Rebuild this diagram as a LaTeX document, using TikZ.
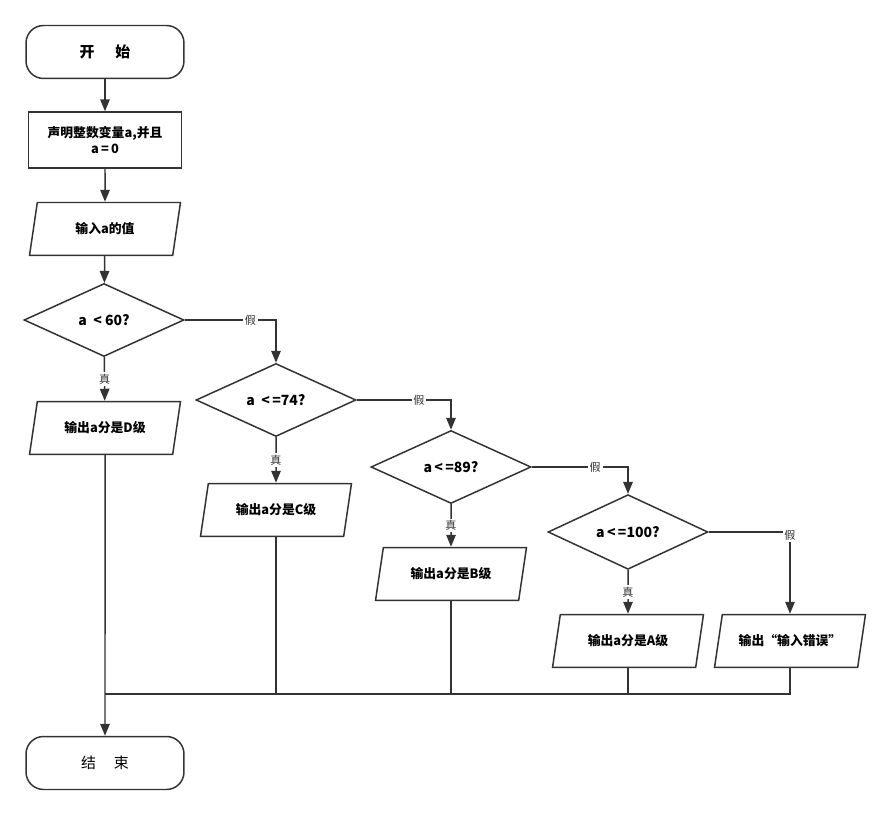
\documentclass[tikz,border=0pt]{standalone}
\usepackage{fontspec}
\setmainfont{Noto Sans CJK SC}
\usetikzlibrary{arrows.meta,shapes.geometric}
\definecolor{ink}{RGB}{51,51,51}
\newcommand{\boxfont}{\fontsize{7.3}{9.2}\selectfont\bfseries}
\tikzset{
  flow/.style={-{Triangle[length=2.4mm,width=1.9mm]}, line width=.85pt, draw=ink},
  merge/.style={line width=.85pt, draw=ink},
  term/.style={draw=ink, line width=.85pt, rounded corners=3.5mm,
               minimum width=3.16cm, minimum height=1.06cm, font=\fontsize{8.5}{10}\selectfont},
  proc/.style={draw=ink, line width=.85pt, align=center,
               minimum width=3.06cm, minimum height=1.12cm, font=\boxfont},
  io/.style={draw=ink, line width=.85pt, trapezium, trapezium left angle=72,
             trapezium right angle=108, trapezium stretches body,
             minimum width=3.02cm, minimum height=1.06cm, inner xsep=0pt, font=\boxfont},
  test/.style={draw=ink, line width=.85pt, diamond, inner sep=0pt,
               minimum width=3.2cm, minimum height=1.46cm, font=\fontsize{8}{10}\selectfont\bfseries},
  tag/.style={fill=white, inner sep=1pt, text=ink, font=\fontsize{6.3}{7}\selectfont}
}
\begin{document}
\begin{tikzpicture}[x=0.02cm, y=-0.02cm]
  \useasboundingbox (0,0) rectangle (890,814);
  \node[term, font=\fontsize{8.5}{10}\selectfont\bfseries] (start) at (105,52) {开\hspace{1.4em}始};
  \node[proc] (decl) at (105,140) {声明整数变量a,并且\\a\,=\,0};
  \node[io] (read) at (105,229) {输入a的值};
  \node[test] (t60) at (104,320) {a\ \ <\ 60?};
  \node[io] (outD) at (105,428) {输出a分是D级};
  \node[test] (t74) at (276,400) {a\ \ <\,=74?};
  \node[io] (outC) at (276,510) {输出a分是C级};
  \node[test] (t89) at (451,467) {a\,<\,=89?};
  \node[io] (outB) at (451,574) {输出a分是B级};
  \node[test] (t100) at (628,532) {a\,<\,=100?};
  \node[io] (outA) at (628,641) {输出a分是A级};
  \node[io] (outE) at (790,641) {输出“输入错误”};
  \node[term] (stop) at (105,763) {结\hspace{1.2em}束};
  \coordinate (m) at (105,694);
  \draw[flow] (start) -- (decl);
  \draw[flow] (decl) -- (read);
  \draw[flow] (read) -- (t60);
  \draw[flow] (t60) -- node[tag] {真} (outD);
  \draw[flow] (t60) -| node[tag, pos=.36] {假} (t74);
  \draw[flow] (t74) -- node[tag] {真} (outC);
  \draw[flow] (t74) -| node[tag, pos=.33] {假} (t89);
  \draw[flow] (t89) -- node[tag] {真} (outB);
  \draw[flow] (t89) -| node[tag, pos=.33] {假} (t100);
  \draw[flow] (t100) -- node[tag] {真} (outA);
  \draw[flow] (t100) -| node[tag, pos=.52] {假} (outE);
  \draw[merge] (outC) |- (m);
  \draw[merge] (outB) |- (m);
  \draw[merge] (outA) |- (m);
  \draw[merge] (outE) |- (m);
  \draw[flow] (outD) -- (stop);
\end{tikzpicture}
\end{document}
